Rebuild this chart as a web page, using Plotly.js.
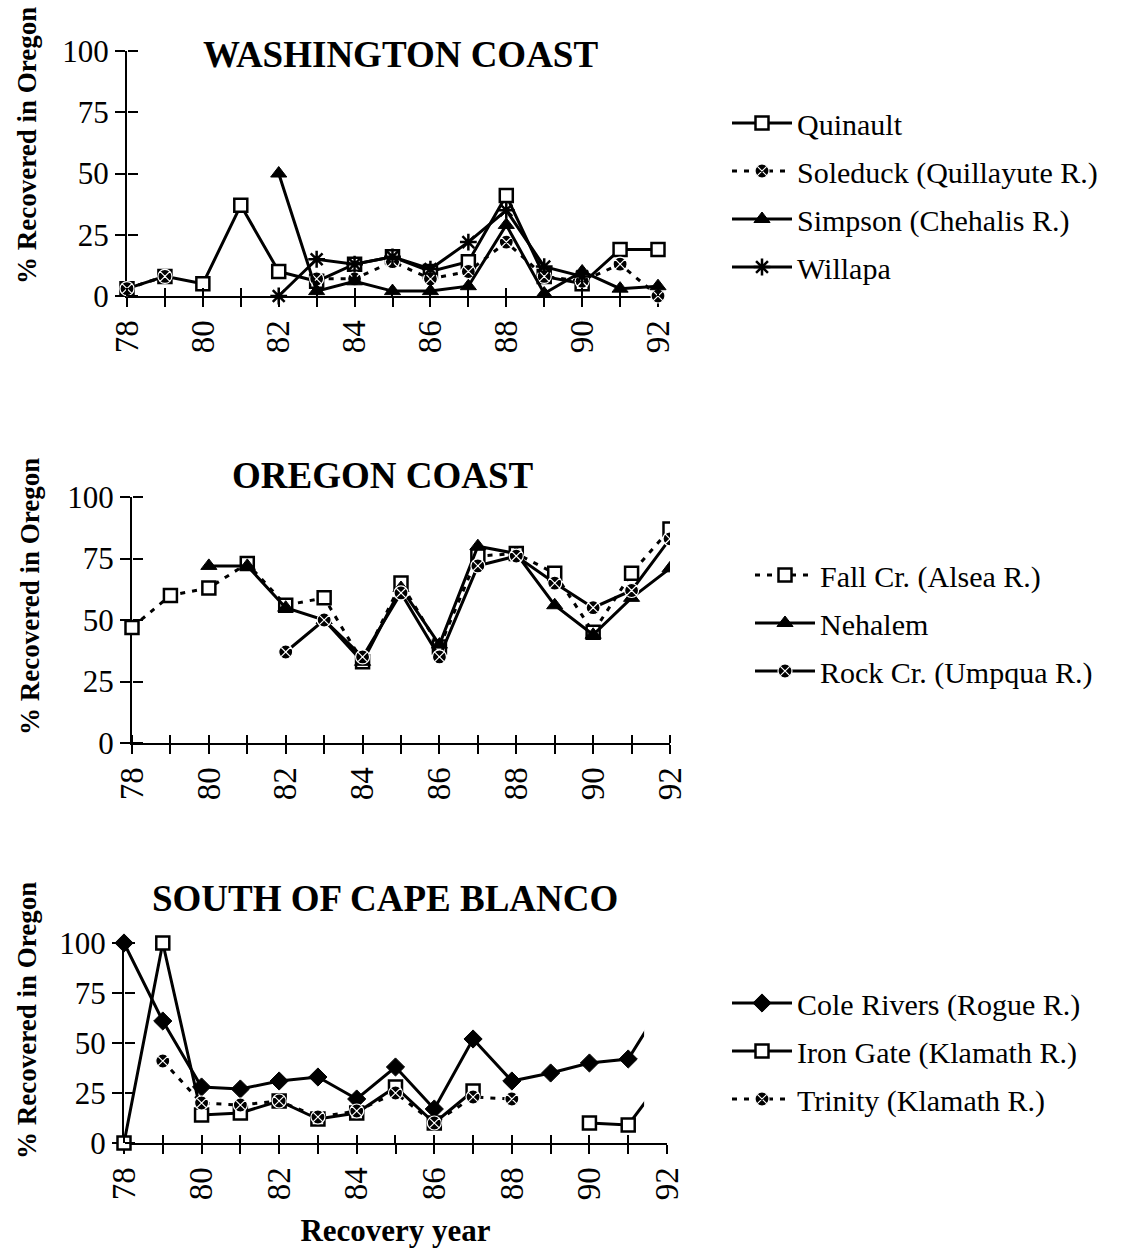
<!DOCTYPE html>
<html><head><meta charset="utf-8">
<script src="https://cdn.plot.ly/plotly-3.0.1.min.js"></script>
<style>html,body{margin:0;padding:0;background:#fff}#chart{width:1126px;height:1248px}</style>
</head><body><div id="chart"></div>
<script>
// ---------- data ----------
const years = [78,79,80,81,82,83,84,85,86,87,88,89,90,91,92];
const yearTickText = ['78','','80','','82','','84','','86','','88','','90','','92'];
const yTickVals = [0,25,50,75,100];
const panelTitles = ['WASHINGTON COAST','OREGON COAST','SOUTH OF CAPE BLANCO'];
const yAxisTitle = '% Recovered in Oregon';
const xAxisTitle = 'Recovery year';

// Washington coast
const quinault = [3, 8, 5, 37, 10, 6, 13, 16, 10, 14, 41, 8, 5, 19, 19];
const soleduck = [3, 8, null, null, null, 7, 7, 14, 7, 10, 22, 8, 6, 13, 0];
const simpson  = [null, null, null, null, 50, 2, 6, 2, 2, 4, 29, 1, 10, 3, 4];
const willapa  = [null, null, null, null, 0, 15, 13, 16, 11, 22, 35, 12, 8, null, null];

// Oregon coast
const fallCr  = [47, 60, 63, 73, 56, 59, 33, 65, 39, 76, 77, 69, 45, 69, 87];
const nehalem = [null, null, 72, 72, 55, 50, 33, 63, 40, 80, 77, 56, 44, 59, 71];
const rockCr  = [null, null, null, null, 37, 50, 35, 61, 35, 72, 76, 65, 55, 62, 83];

// South of Cape Blanco
const coleRivers = [100, 61, 28, 27, 31, 33, 22, 38, 17, 52, 31, 35, 40, 42, 73];
const ironGate   = [0, 100, 14, 15, 21, 12, 15, 28, 10, 26, null, null, 10, 9, 35];
const trinity    = [null, 41, 20, 19, 21, 13, 16, 25, 10, 23, 22, null, null, null, null];

// ---------- styles ----------
const FONT = 'Liberation Serif, Times New Roman, serif';
const DOT = '5px,7px';
const sq  = {symbol:'square', color:'#fff', size:13, line:{color:'#000', width:2.5}};
const cx  = {symbol:'circle-x', color:'#000', size:14, line:{color:'#fff', width:1.2}};
const tri = {symbol:'triangle-up', color:'#000', size:14, line:{color:'#000', width:1}};
const ast = {symbol:'asterisk-open', color:'#000', size:14, line:{color:'#000', width:2.5}};
const dia = {symbol:'diamond', color:'#000', size:14, line:{color:'#000', width:1}};

const panelSeries = [
  [
    {name:'Quinault', y:quinault, m:sq, dash:'solid'},
    {name:'Soleduck (Quillayute R.)', y:soleduck, m:cx, dash:DOT},
    {name:'Simpson (Chehalis R.)', y:simpson, m:tri, dash:'solid'},
    {name:'Willapa', y:willapa, m:ast, dash:'solid'}
  ],
  [
    {name:'Fall Cr. (Alsea R.)', y:fallCr, m:sq, dash:DOT},
    {name:'Nehalem', y:nehalem, m:tri, dash:'solid'},
    {name:'Rock Cr. (Umpqua R.)', y:rockCr, m:cx, dash:'solid'}
  ],
  [
    {name:'Cole Rivers (Rogue R.)', y:coleRivers, m:dia, dash:'solid'},
    {name:'Iron Gate (Klamath R.)', y:ironGate, m:sq, dash:'solid'},
    {name:'Trinity (Klamath R.)', y:trinity, m:cx, dash:DOT}
  ]
];

// ---------- geometry (pixels) ----------
const W = 1126, H = 1248;
const panels = [
  {x78:127, x92:658, y0:296, y100:51,  xmax:92.5,  title:[400,55],  ytitle:[27,146],  legendX:727, legendTop:97},
  {x78:132, x92:670, y0:743, y100:497, xmax:92,    title:[383,475], ytitle:[30,597],  legendX:750, legendTop:549},
  {x78:124, x92:667, y0:1143, y100:943, xmax:91.41, title:[385,898], ytitle:[27,1021], legendX:727, legendTop:977}
];

const id = n => n === 1 ? '' : String(n);
const data = [];
const layout = {
  width: W, height: H,
  margin: {l:0, r:0, t:0, b:0},
  paper_bgcolor: '#fff', plot_bgcolor: 'rgba(0,0,0,0)',
  font: {family: FONT, color: '#000'},
  showlegend: true,
  annotations: []
};

panels.forEach((p, i) => {
  const vx = 2*i + 1, dx = 2*i + 2;
  const legendKey = i === 0 ? 'legend' : 'legend' + (i + 1);
  const ppy = (p.x92 - p.x78) / 14;
  const ppu = (p.y0 - p.y100) / 100;

  // visible axes: line, outside half of the ticks, labels
  const xv = {
    domain:[p.x78/W, p.x92/W], range:[78,92], anchor:'y'+id(vx),
    tickmode:'array', tickvals:years, ticktext:yearTickText,
    ticks:'outside', ticklen:9, tickwidth:2, tickcolor:'#000',
    showline:true, linewidth:2, linecolor:'#000',
    showgrid:false, zeroline:false, tickangle:-90,
    tickfont:{size:33, family:FONT, color:'#000'}, fixedrange:true
  };
  if (i === 2) xv.title = {text:'<b>'+xAxisTitle+'</b>', font:{size:31, family:FONT, color:'#000'}, standoff:20};
  layout['xaxis'+id(vx)] = xv;
  layout['yaxis'+id(vx)] = {
    domain:[1-p.y0/H, 1-p.y100/H], range:[0,100], anchor:'x'+id(vx),
    tickmode:'array', tickvals:yTickVals,
    ticks:'outside', ticklen:10, tickwidth:2, tickcolor:'#000',
    showline:true, linewidth:2, linecolor:'#000',
    showgrid:false, zeroline:false,
    tickfont:{size:31, family:FONT, color:'#000'}, fixedrange:true
  };

  // data axes: same scale, padded (clipped at the right end like the original);
  // positioned on the visible axis lines so they draw the inside half of each crossing tick
  const left = p.x78 - 0.5*ppy, right = p.x78 + (p.xmax - 78)*ppy;
  const bottom = p.y0 + 6*ppu, top = p.y100 - 6*ppu;
  layout['xaxis'+dx] = {
    domain:[left/W, right/W], range:[77.5, p.xmax], anchor:'free', position:1-p.y0/H, side:'top',
    tickmode:'array', tickvals:years, ticks:'outside', ticklen:8, tickwidth:2, tickcolor:'#000',
    showticklabels:false, showline:false, showgrid:false, zeroline:false, fixedrange:true
  };
  layout['yaxis'+dx] = {
    domain:[1-bottom/H, 1-top/H], range:[-6,106], anchor:'free', position:p.x78/W, side:'right',
    tickmode:'array', tickvals:yTickVals, ticks:'outside', ticklen:10, tickwidth:2, tickcolor:'#000',
    showticklabels:false, showline:false, showgrid:false, zeroline:false, fixedrange:true
  };

  // empty trace so the visible axis pair is drawn
  data.push({x:[null], y:[null], xaxis:'x'+id(vx), yaxis:'y'+id(vx), showlegend:false, hoverinfo:'skip', mode:'markers'});

  panelSeries[i].forEach((s, k) => {
    data.push({
      type:'scatter', mode:'lines+markers', name:s.name,
      x:years, y:s.y, xaxis:'x'+dx, yaxis:'y'+dx,
      line:{color:'#000', width:3, dash:s.dash},
      marker:s.m, connectgaps:false, legend:legendKey, legendgroup:'g'+i+'_'+k
    });
  });

  layout[legendKey] = {
    x:p.legendX/W, xanchor:'left', y:1-p.legendTop/H, yanchor:'top',
    bgcolor:'rgba(0,0,0,0)', borderwidth:0, itemwidth:60,
    traceorder:'grouped', tracegroupgap:6,
    font:{size:30, family:FONT, color:'#000'}
  };

  layout.annotations.push({
    text:'<b>'+panelTitles[i]+'</b>', xref:'paper', yref:'paper',
    x:p.title[0]/W, y:1-p.title[1]/H, xanchor:'center', yanchor:'middle',
    showarrow:false, font:{size:37, family:FONT, color:'#000'}
  });
  layout.annotations.push({
    text:'<b>'+yAxisTitle+'</b>', xref:'paper', yref:'paper', textangle:-90,
    x:p.ytitle[0]/W, y:1-p.ytitle[1]/H, xanchor:'center', yanchor:'middle',
    showarrow:false, font:{size:27, family:FONT, color:'#000'}
  });
});

Plotly.newPlot('chart', data, layout, {staticPlot:true, displayModeBar:false});
</script>
</body></html>
